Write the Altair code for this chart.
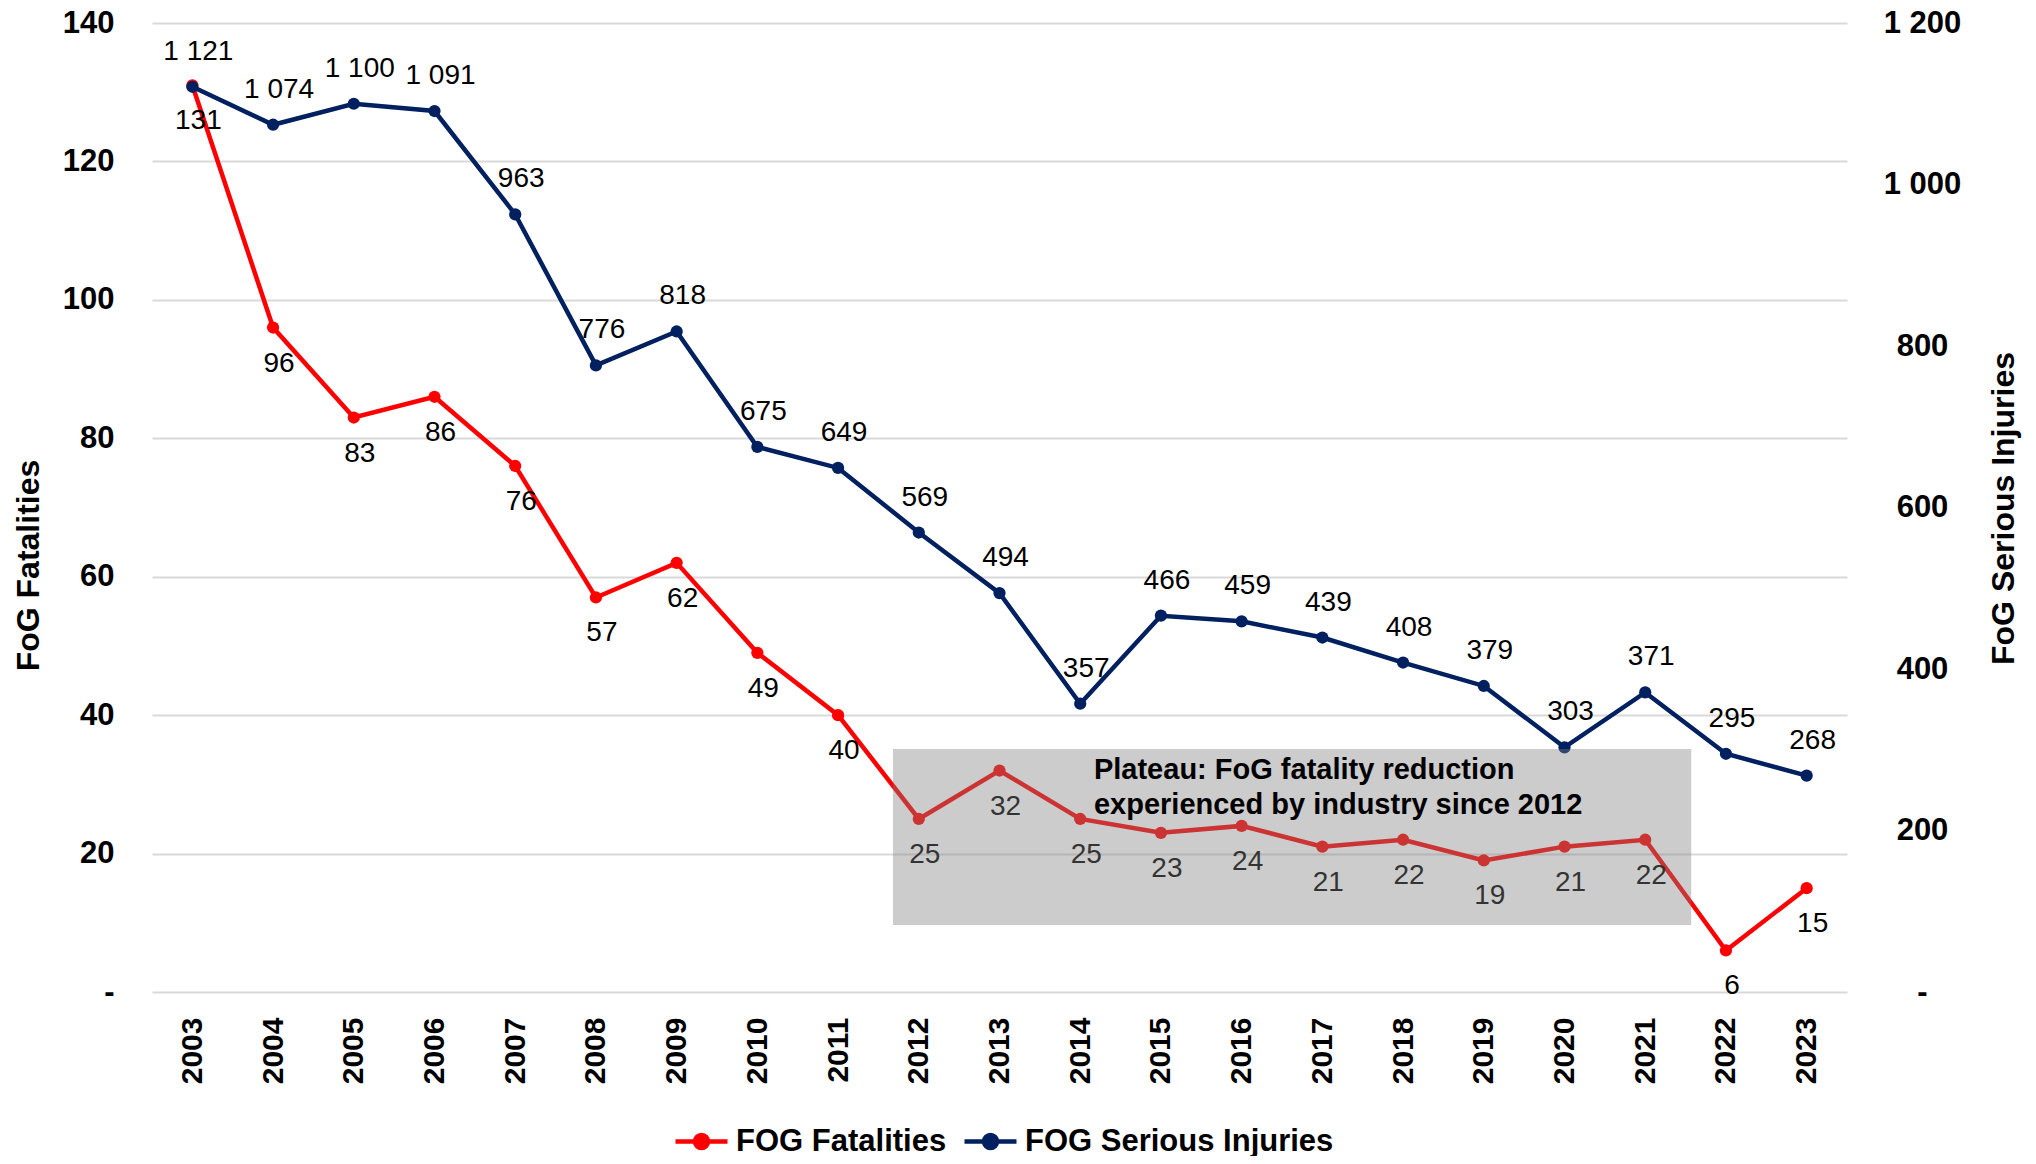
import altair as alt
import pandas as pd

FONT = "Liberation Sans, Arial, sans-serif"
NBSP = "\u00a0"

years = list(range(2003, 2024))
fatalities = [131, 96, 83, 86, 76, 57, 62, 49, 40, 25, 32, 25, 23, 24, 21, 22, 19, 21, 22, 6, 15]
injuries = [1121, 1074, 1100, 1091, 963, 776, 818, 675, 649, 569, 494, 357, 466, 459,
            439, 408, 379, 303, 371, 295, 268]
series_names = ["FOG Fatalities", "FOG Serious Injuries"]
series_colors = ["#ff0000", "#002060"]
left_ticks = [0, 20, 40, 60, 80, 100, 120, 140]
right_ticks = [0, 200, 400, 600, 800, 1000, 1200]

# plateau box (x in years, y in serious-injury axis units)
box_x = [2011.68]
box_x2 = [2021.57]
box_y = [83]
box_y2 = [301]
note_lines = ["Plateau: FoG fatality reduction", "experienced by industry since 2012"]
note_x = [2014.17, 2014.17]
note_y = [275, 231]

df = pd.DataFrame({
    "year": years,
    "fat": fatalities,
    "inj": injuries,
    "fat_lbl": [str(v) for v in fatalities],
    "inj_lbl": [f"{v:,}".replace(",", " ") for v in injuries],
    "s_fat": series_names[0],
    "s_inj": series_names[1],
})
box_df = pd.DataFrame({"x": box_x, "x2": box_x2, "y": box_y, "y2": box_y2})
note_df = pd.DataFrame({"x": note_x, "y": note_y, "t": note_lines})

x_axis = alt.Axis(values=years, format="d", labelAngle=270, labelFontSize=30,
                  labelFontWeight="bold", labelPadding=25, ticks=False, domain=False,
                  grid=False, title=None, labelColor="black", labelFont=FONT,
                  labelOverlap=False)
x_scale = alt.Scale(domain=[2002.5, 2023.5], nice=False, zero=False)


def X(field):
    return alt.X(field, scale=x_scale, axis=x_axis)


left_axis = alt.Axis(
    orient="left", values=left_ticks, title="FoG Fatalities",
    labelExpr=f"datum.value == 0 ? '-{NBSP}{NBSP}' : datum.label",
    labelFontSize=31, labelFontWeight="bold", labelFont=FONT, labelColor="black",
    labelPadding=38, ticks=False, domain=False, grid=True, gridColor="#d9d9d9",
    gridWidth=2, titleFontSize=32, titleFont=FONT, titleFontWeight="bold",
    titleColor="black", titleAngle=270, titleX=-124, titleY=542,
    titleBaseline="middle", titleAlign="center")
left_scale = alt.Scale(domain=[0, 140], nice=False)

right_axis = alt.Axis(
    orient="right", values=right_ticks, title="FoG Serious Injuries",
    labelExpr=f"datum.value == 0 ? '-{NBSP * 7}' : replace(format(datum.value, ','), ',', ' ')",
    labelFontSize=31, labelFontWeight="bold", labelFont=FONT, labelColor="black",
    labelAlign="center", labelPadding=75, ticks=False, domain=False, grid=False,
    titleFontSize=32, titleFont=FONT, titleFontWeight="bold", titleColor="black",
    titleAngle=270, titleX=156, titleY=485, titleBaseline="middle", titleAlign="center")
right_scale = alt.Scale(domain=[0, 1200], nice=False)


def YL(field):
    return alt.Y(field, scale=left_scale, axis=left_axis)


def YR(field):
    return alt.Y(field, scale=right_scale, axis=right_axis)


legend_path = ("M-1,0L-0.25,0M0.25,0L1,0M-0.25,0A0.25,0.25,0,1,0,0.25,0"
               "A0.25,0.25,0,1,0,-0.25,0Z")
legend = alt.Legend(
    orient="none", legendX=521, legendY=1090, direction="horizontal", title=None,
    symbolType=legend_path, symbolSize=2704, symbolStrokeWidth=4.5,
    symbolFillColor={"expr": "scale('color', datum.value)"},
    labelFontSize=31, labelFontWeight="bold", labelFont=FONT, labelColor="black",
    labelLimit=600, labelOffset=6, columnPadding=8, padding=0,
)
color_scale = alt.Scale(domain=series_names, range=series_colors)

base = alt.Chart(df)

fat_line = base.mark_line(strokeWidth=4.5).encode(
    x=X("year:Q"), y=YL("fat:Q"),
    color=alt.Color("s_fat:N", scale=color_scale, legend=legend))
fat_pts = base.mark_circle(size=150, opacity=1, color=series_colors[0]).encode(
    x=X("year:Q"), y=YL("fat:Q"))
fat_txt = base.mark_text(fontSize=28, font=FONT, color="black", dy=36, dx=6,
                         baseline="middle").encode(
    x=X("year:Q"), y=YL("fat:Q"), text="fat_lbl:N")
fat_group = alt.layer(fat_line, fat_pts, fat_txt)

inj_line = base.mark_line(strokeWidth=4.5).encode(
    x=X("year:Q"), y=YR("inj:Q"),
    color=alt.Color("s_inj:N", scale=color_scale, legend=legend))
inj_pts = base.mark_circle(size=150, opacity=1, color=series_colors[1]).encode(
    x=X("year:Q"), y=YR("inj:Q"))
inj_txt = base.mark_text(fontSize=28, font=FONT, color="black", dy=-35, dx=6,
                         baseline="middle").encode(
    x=X("year:Q"), y=YR("inj:Q"), text="inj_lbl:N")
box = alt.Chart(box_df).mark_rect(color="#7f7f7f", opacity=0.4).encode(
    x=X("x:Q"), x2="x2:Q", y=YR("y:Q"), y2="y2:Q")
note = alt.Chart(note_df).mark_text(fontSize=29, font=FONT, fontWeight="bold",
                                    color="black", align="left",
                                    baseline="middle").encode(
    x=X("x:Q"), y=YR("y:Q"), text="t:N")
inj_group = alt.layer(inj_line, inj_pts, inj_txt, box, note)

chart = (
    alt.layer(fat_group, inj_group)
    .resolve_scale(y="independent")
    .properties(
        width=1695, height=969,
        padding={"left": 144, "top": 15, "right": 178, "bottom": 164},
        autosize=alt.AutoSizeParams(type="none"),
    )
    .configure(font=FONT, background="white")
    .configure_view(stroke="transparent", strokeWidth=0, strokeOpacity=0)
    .configure_axis(domain=False, domainOpacity=0)
    .configure_axisX(grid=False)
)

chart.save("out.html", embed_options={"renderer": "svg", "actions": False})
